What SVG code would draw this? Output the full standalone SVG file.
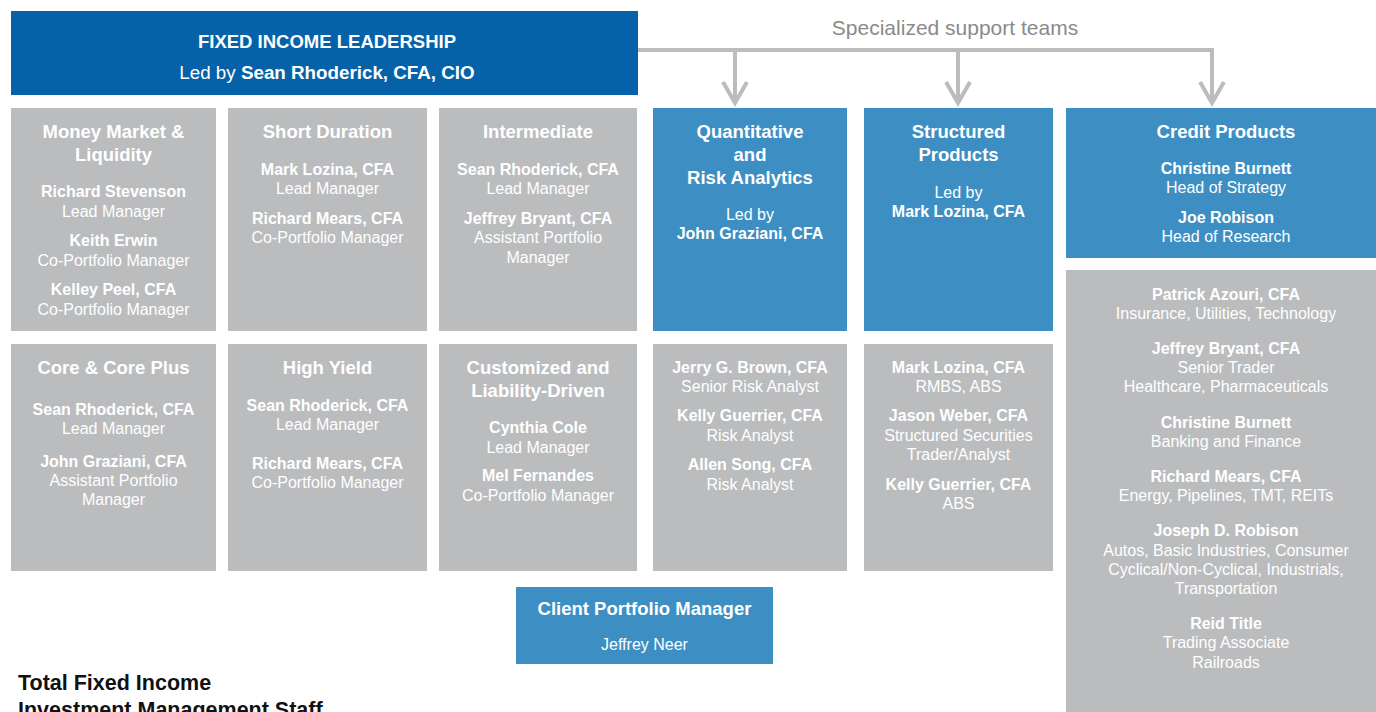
<svg xmlns="http://www.w3.org/2000/svg" width="1376" height="712" viewBox="0 0 1376 712">
<style>
.gray{fill:#BBBCBE}
.blue{fill:#3D8FC3}
.hdr{fill:#0562A9}
text{font-family:"Liberation Sans",Arial,sans-serif;fill:#fff;text-anchor:middle}
.t{font-size:18.5px;font-weight:bold}
.n{font-size:16px;font-weight:bold}
.r{font-size:16px}
.conn{stroke:#BBBCBE;stroke-width:4;fill:none}
.note{font-family:"Liberation Sans",Arial,sans-serif;fill:#8A8A8A;font-size:21px}
.foot{fill:#111;text-anchor:start;font-size:21.5px;font-weight:bold}
</style>
<rect width="1376" height="712" fill="#fff"/>
<g id="connectors">
<path class="conn" d="M638 50 H1214 M735 50 V103 M958 50 V103 M1212 50 V103"/>
<path class="conn" d="M723 82 L735 103 L747 82 M946 82 L958 103 L970 82 M1200 82 L1212 103 L1224 82"/>
<text class="note" x="955" y="35">Specialized support teams</text>
</g>
<g id="leadership">
<rect class="hdr" x="11" y="11" width="627" height="84"/>
<text x="327" y="48" style="font-size:18.5px;font-weight:bold">FIXED INCOME LEADERSHIP</text>
<text x="327" y="79" style="font-size:18.8px">Led by <tspan font-weight="bold">Sean Rhoderick, CFA, CIO</tspan></text>
</g>
<g id="money-market">
<rect class="gray" x="11" y="108" width="205" height="223"/>
<text class="t" x="113.5" y="138">Money Market &amp;</text>
<text class="t" x="113.5" y="161">Liquidity</text>
<text class="n" x="113.5" y="197">Richard Stevenson</text>
<text class="r" x="113.5" y="217">Lead Manager</text>
<text class="n" x="113.5" y="246">Keith Erwin</text>
<text class="r" x="113.5" y="266">Co-Portfolio Manager</text>
<text class="n" x="113.5" y="295">Kelley Peel, CFA</text>
<text class="r" x="113.5" y="315">Co-Portfolio Manager</text>
</g>
<g id="short-duration">
<rect class="gray" x="228" y="108" width="199" height="223"/>
<text class="t" x="327.5" y="138">Short Duration</text>
<text class="n" x="327.5" y="175">Mark Lozina, CFA</text>
<text class="r" x="327.5" y="194">Lead Manager</text>
<text class="n" x="327.5" y="224">Richard Mears, CFA</text>
<text class="r" x="327.5" y="243">Co-Portfolio Manager</text>
</g>
<g id="intermediate">
<rect class="gray" x="439" y="108" width="198" height="223"/>
<text class="t" x="538" y="138">Intermediate</text>
<text class="n" x="538" y="175">Sean Rhoderick, CFA</text>
<text class="r" x="538" y="194">Lead Manager</text>
<text class="n" x="538" y="224">Jeffrey Bryant, CFA</text>
<text class="r" x="538" y="243">Assistant Portfolio</text>
<text class="r" x="538" y="263">Manager</text>
</g>
<g id="quant">
<rect class="blue" x="653" y="108" width="194" height="223"/>
<text class="t" x="750" y="138">Quantitative</text>
<text class="t" x="750" y="161">and</text>
<text class="t" x="750" y="184">Risk Analytics</text>
<text class="r" x="750" y="220">Led by</text>
<text class="n" x="750" y="239">John Graziani, CFA</text>
</g>
<g id="structured">
<rect class="blue" x="864" y="108" width="189" height="223"/>
<text class="t" x="958.5" y="138">Structured</text>
<text class="t" x="958.5" y="161">Products</text>
<text class="r" x="958.5" y="198">Led by</text>
<text class="n" x="958.5" y="217">Mark Lozina, CFA</text>
</g>
<g id="credit">
<rect class="blue" x="1066" y="108" width="320" height="150"/>
<text class="t" x="1226" y="138">Credit Products</text>
<text class="n" x="1226" y="174">Christine Burnett</text>
<text class="r" x="1226" y="193">Head of Strategy</text>
<text class="n" x="1226" y="223">Joe Robison</text>
<text class="r" x="1226" y="242">Head of Research</text>
</g>
<g id="core">
<rect class="gray" x="11" y="344" width="205" height="227"/>
<text class="t" x="113.5" y="374">Core &amp; Core Plus</text>
<text class="n" x="113.5" y="415">Sean Rhoderick, CFA</text>
<text class="r" x="113.5" y="434">Lead Manager</text>
<text class="n" x="113.5" y="467">John Graziani, CFA</text>
<text class="r" x="113.5" y="486">Assistant Portfolio</text>
<text class="r" x="113.5" y="505">Manager</text>
</g>
<g id="high-yield">
<rect class="gray" x="228" y="344" width="199" height="227"/>
<text class="t" x="327.5" y="374">High Yield</text>
<text class="n" x="327.5" y="411">Sean Rhoderick, CFA</text>
<text class="r" x="327.5" y="430">Lead Manager</text>
<text class="n" x="327.5" y="469">Richard Mears, CFA</text>
<text class="r" x="327.5" y="488">Co-Portfolio Manager</text>
</g>
<g id="customized">
<rect class="gray" x="439" y="344" width="198" height="227"/>
<text class="t" x="538" y="374">Customized and</text>
<text class="t" x="538" y="397">Liability-Driven</text>
<text class="n" x="538" y="433">Cynthia Cole</text>
<text class="r" x="538" y="453">Lead Manager</text>
<text class="n" x="538" y="481">Mel Fernandes</text>
<text class="r" x="538" y="501">Co-Portfolio Manager</text>
</g>
<g id="quant-staff">
<rect class="gray" x="653" y="344" width="194" height="227"/>
<text class="n" x="750" y="373">Jerry G. Brown, CFA</text>
<text class="r" x="750" y="392">Senior Risk Analyst</text>
<text class="n" x="750" y="421">Kelly Guerrier, CFA</text>
<text class="r" x="750" y="441">Risk Analyst</text>
<text class="n" x="750" y="470">Allen Song, CFA</text>
<text class="r" x="750" y="490">Risk Analyst</text>
</g>
<g id="structured-staff">
<rect class="gray" x="864" y="344" width="189" height="227"/>
<text class="n" x="958.5" y="373">Mark Lozina, CFA</text>
<text class="r" x="958.5" y="392">RMBS, ABS</text>
<text class="n" x="958.5" y="421">Jason Weber, CFA</text>
<text class="r" x="958.5" y="441">Structured Securities</text>
<text class="r" x="958.5" y="460">Trader/Analyst</text>
<text class="n" x="958.5" y="490">Kelly Guerrier, CFA</text>
<text class="r" x="958.5" y="509">ABS</text>
</g>
<g id="credit-staff">
<rect class="gray" x="1066" y="270" width="320" height="450"/>
<text class="n" x="1226" y="300">Patrick Azouri, CFA</text>
<text class="r" x="1226" y="319">Insurance, Utilities, Technology</text>
<text class="n" x="1226" y="354">Jeffrey Bryant, CFA</text>
<text class="r" x="1226" y="373">Senior Trader</text>
<text class="r" x="1226" y="392">Healthcare, Pharmaceuticals</text>
<text class="n" x="1226" y="428">Christine Burnett</text>
<text class="r" x="1226" y="447">Banking and Finance</text>
<text class="n" x="1226" y="482">Richard Mears, CFA</text>
<text class="r" x="1226" y="501">Energy, Pipelines, TMT, REITs</text>
<text class="n" x="1226" y="536">Joseph D. Robison</text>
<text class="r" x="1226" y="556">Autos, Basic Industries, Consumer</text>
<text class="r" x="1226" y="575">Cyclical/Non-Cyclical, Industrials,</text>
<text class="r" x="1226" y="594">Transportation</text>
<text class="n" x="1226" y="629">Reid Title</text>
<text class="r" x="1226" y="648">Trading Associate</text>
<text class="r" x="1226" y="668">Railroads</text>
</g>
<g id="client-pm">
<rect class="blue" x="516" y="587" width="257" height="77"/>
<text class="t" x="644.5" y="615">Client Portfolio Manager</text>
<text class="r" x="644.5" y="650">Jeffrey Neer</text>
</g>
<g id="footer">
<text class="foot" x="18" y="690">Total Fixed Income</text>
<text class="foot" x="18" y="717">Investment Management Staff</text>
</g>
</svg>
